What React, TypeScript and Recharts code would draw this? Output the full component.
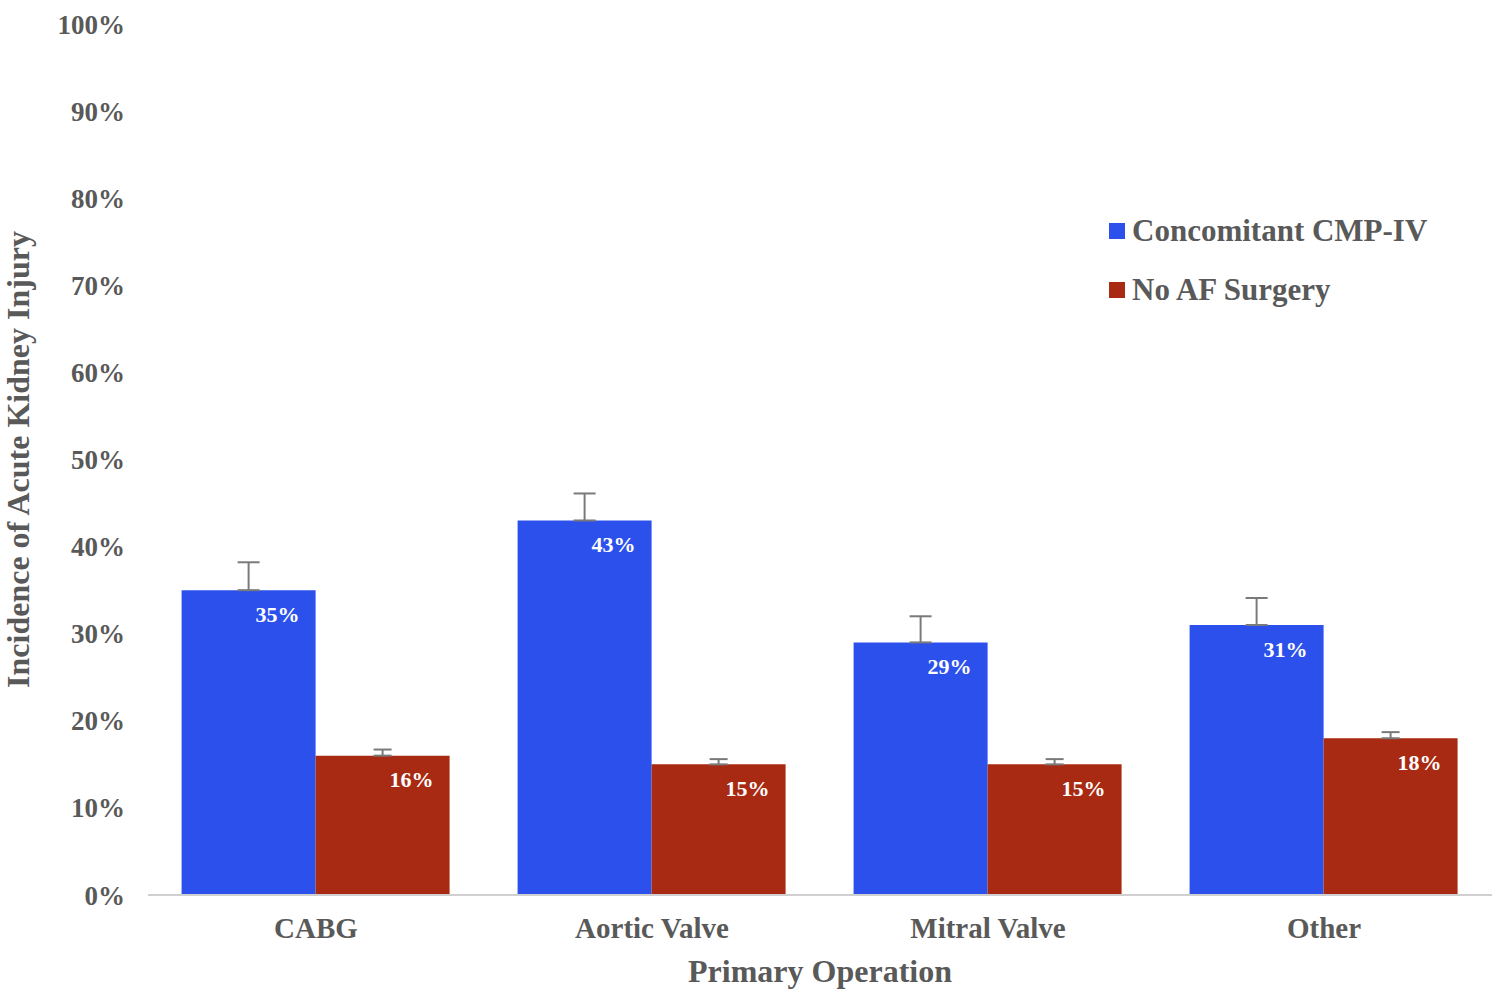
import {
  BarChart, Bar, XAxis, YAxis, ErrorBar, LabelList,
} from 'recharts'

const categories = ['CABG', 'Aortic Valve', 'Mitral Valve', 'Other']
const cmpIV = [35, 43, 29, 31]
const cmpIVErr = [3.2, 3.1, 3.0, 3.1]
const noAF = [16, 15, 15, 18]
const noAFErr = [0.7, 0.6, 0.6, 0.7]
const yTicks = [0, 10, 20, 30, 40, 50, 60, 70, 80, 90, 100]

// error bars only show above the bar in the original, so lower part is 0
const data = categories.map((name, i) => ({
  name,
  cmp: cmpIV[i],
  cmpErr: [0, cmpIVErr[i]],
  noaf: noAF[i],
  noafErr: [0, noAFErr[i]],
}))

const FONT = '"Liberation Serif", "Times New Roman", serif'
const GRAY = '#595959'
const BLUE = '#2c50ec'
const RED = '#a82a12'

const legendItems = [
  { label: 'Concomitant CMP-IV', color: BLUE },
  { label: 'No AF Surgery', color: RED },
]

// drawn outside the chart so it doesn't eat plot width
function LegendBox() {
  return (
    <div style={{
      position: 'absolute', left: 1109, top: 214,
      fontFamily: FONT, fontWeight: 'bold', color: GRAY, fontSize: 31,
    }}>
      {legendItems.map((it) => (
        <div key={it.label} style={{ display: 'flex', alignItems: 'center', height: 34, marginBottom: 25 }}>
          <span style={{ width: 16, height: 16, background: it.color, marginRight: 7, display: 'inline-block' }} />
          <span>{it.label}</span>
        </div>
      ))}
    </div>
  )
}

export default function App() {
  return (
    <div style={{ position: 'absolute', left: 0, top: 0, width: 1500, height: 1001, background: '#fff' }}>
      <BarChart
        width={1500}
        height={1001}
        data={data}
        margin={{ top: 24, right: 8, bottom: 0, left: 0 }}
        barCategoryGap="10%"
        barGap={0}
      >
        <XAxis
          dataKey="name"
          height={106}
          axisLine={{ stroke: '#d0d0d0', strokeWidth: 2 }}
          tickLine={false}
          tick={{ fill: GRAY, fontSize: 29, fontWeight: 'bold', fontFamily: FONT }}
          tickMargin={16}
          label={{
            value: 'Primary Operation',
            position: 'insideBottom',
            offset: 19,
            fill: GRAY,
            fontSize: 32,
            fontWeight: 'bold',
            fontFamily: FONT,
          }}
        />
        <YAxis
          width={148}
          domain={[0, 100]}
          ticks={yTicks}
          interval={0}
          axisLine={false}
          tickLine={false}
          tickFormatter={(v) => `${v}%`}
          tick={{ fill: GRAY, fontSize: 27, fontWeight: 'bold', fontFamily: FONT }}
          tickMargin={17}
          label={{
            value: 'Incidence of Acute Kidney Injury',
            angle: -90,
            position: 'insideLeft',
            offset: 18,
            style: { textAnchor: 'middle' },
            fill: GRAY,
            fontSize: 32,
            fontWeight: 'bold',
            fontFamily: FONT,
          }}
        />
        <Bar dataKey="cmp" name="Concomitant CMP-IV" fill={BLUE} isAnimationActive={false}>
          <ErrorBar dataKey="cmpErr" width={11} stroke="#7a7a7a" strokeWidth={2} />
          <LabelList
            dataKey="cmp"
            position="insideTopRight"
            offset={16}
            formatter={(v: number) => `${v}%`}
            fill="#fff"
            fontSize={22}
            fontWeight="bold"
            fontFamily={FONT}
          />
        </Bar>
        <Bar dataKey="noaf" name="No AF Surgery" fill={RED} isAnimationActive={false}>
          <ErrorBar dataKey="noafErr" width={9} stroke="#7a7a7a" strokeWidth={2} />
          <LabelList
            dataKey="noaf"
            position="insideTopRight"
            offset={16}
            formatter={(v: number) => `${v}%`}
            fill="#fff"
            fontSize={22}
            fontWeight="bold"
            fontFamily={FONT}
          />
        </Bar>
      </BarChart>
      <LegendBox />
    </div>
  )
}
